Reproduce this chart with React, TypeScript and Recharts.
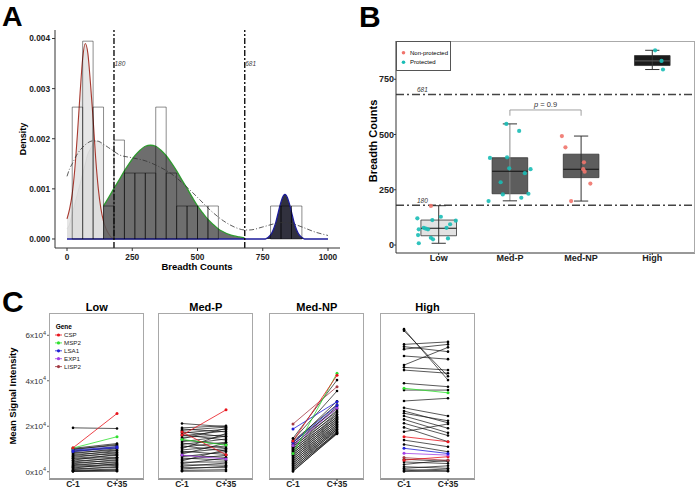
import {
  Area,
  ComposedChart,
  Line,
  LineChart,
  ReferenceArea,
  ReferenceLine,
  Scatter,
  ScatterChart,
  XAxis,
  YAxis,
} from 'recharts'

const FONT = '"Liberation Sans", Arial, sans-serif'

// ---------- panel A: breadth histogram with fitted mixture ----------
const BIN_WIDTH = 40
const SAMPLE_SIZE = 38
const binStarts = [20, 60, 100, 140, 180, 220, 260, 300, 340, 380, 420, 460, 500, 540, 780, 820, 860]
const binCounts = [4, 6, 4, 1, 3, 2, 2, 2, 4, 2, 1, 1, 1, 1, 1, 1, 1]

const lowFit: [number, number][] = [
  [0, 0.0004], [10, 0.0006], [20, 0.0009], [30, 0.0014], [40, 0.0021], [50, 0.0029], [60, 0.0036],
  [70, 0.0039], [80, 0.0037], [90, 0.0031], [100, 0.0024], [110, 0.0016], [120, 0.001], [130, 0.0006],
  [140, 0.00035], [150, 0.0002], [160, 0.0001], [170, 0.00003], [180, 0],
]
const lowShade: [number, number][] = [
  [0, 0.0002], [10, 0.0003], [20, 0.0005], [30, 0.0007], [40, 0.0009], [50, 0.0011], [60, 0.0013],
  [70, 0.0015], [80, 0.0017], [90, 0.0018], [100, 0.0019], [110, 0.00195], [120, 0.00195], [130, 0.0019],
  [140, 0.00185],
]
const medFit: [number, number][] = [
  [140, 0.00066], [160, 0.00083], [180, 0.00101], [200, 0.00118], [220, 0.00136], [240, 0.00152],
  [260, 0.00166], [280, 0.00177], [300, 0.00185], [320, 0.00187], [340, 0.00185], [360, 0.00177],
  [380, 0.00166], [400, 0.00152], [420, 0.00136], [440, 0.00118], [460, 0.00101], [480, 0.00083],
  [500, 0.00066], [520, 0.00052], [540, 0.00039], [560, 0.00029], [580, 0.0002], [600, 0.00014],
  [620, 0.00009], [640, 0.00006], [660, 0.00004], [680, 0.00002],
]
const highFit: [number, number][] = [
  [0, 0], [700, 0], [760, 0], [770, 0.00003], [780, 0.00008], [790, 0.00018], [800, 0.00033],
  [810, 0.00054], [820, 0.00074], [830, 0.00087], [835, 0.00089], [840, 0.00087], [850, 0.00074],
  [860, 0.00054], [870, 0.00033], [880, 0.00018], [890, 0.00008], [900, 0.00003], [910, 0], [1000, 0],
]
const overallDensity: [number, number][] = [
  [0, 0.00125], [10, 0.0014], [20, 0.0015], [40, 0.0017], [60, 0.00183], [80, 0.00192], [100, 0.00196],
  [120, 0.00195], [140, 0.00189], [160, 0.00182], [180, 0.00175], [200, 0.00168], [250, 0.00162],
  [300, 0.00156], [350, 0.00145], [400, 0.0013], [450, 0.00108], [500, 0.00083], [550, 0.00057],
  [600, 0.00036], [650, 0.00022], [680, 0.00018], [700, 0.00018], [750, 0.00024], [800, 0.00031],
  [830, 0.00033], [860, 0.00031], [900, 0.00024], [950, 0.00014], [1000, 0.00007],
]
const cutoffs = [180, 681]
const densityTicks = [0, 0.001, 0.002, 0.003, 0.004]
const breadthTicks = [0, 250, 500, 750, 1000]

// ---------- panel B: breadth by group ----------
const groups = ['Low', 'Med-P', 'Med-NP', 'High']
const whiskerLow = [8, 200, 199, 794]
const quart1 = [42, 232, 305, 812]
const medians = [76, 334, 343, 833]
const quart3 = [113, 395, 411, 857]
const whiskerHigh = [178, 548, 493, 881]
const boxFills = ['#e2e2e2', '#5d5d5d', '#5d5d5d', '#1b1b1b']
const protectedX = [
  0.7, 0.91, 1.03, 1.24, 0.72, 0.79, 0.82, 0.85, 1.11, 1.16, 0.71, 0.89, 0.92, 1.13, 0.72,
  1.72, 1.96, 1.99, 2.21, 2.29, 1.87, 1.9, 2.26, 2.16, 1.7, 1.95, 2.13,
  4.04, 4.13, 4.15,
]
const protectedY = [
  121, 113, 128, 110, 71, 78, 74, 71, 78, 94, 45, 33, 26, 30, 8,
  394, 397, 347, 325, 343, 284, 229, 232, 214, 199, 548, 516,
  881, 833, 794,
]
const nonProtectedX = [0.89, 2.73, 2.78, 3.04, 3.03, 3.05, 3.13, 2.86]
const nonProtectedY = [177, 493, 442, 374, 343, 332, 278, 199]
const breadthGroupTicks = [0, 250, 500, 750]

// ---------- panel C: signal before / after challenge (x10^3) ----------
const timepoints = ['C-1', 'C+35']
const geneNames = ['CSP', 'MSP2', 'LSA1', 'EXP1', 'LISP2']
const geneColors: Record<string, string> = {
  CSP: '#e8141c',
  MSP2: '#2fe02f',
  LSA1: '#1f1fd6',
  EXP1: '#a23fe6',
  LISP2: '#a23a44',
}
type Pair = [number, number]
type GeneLine = [string, number, number]

const lowPairs: Pair[] = [
  [19.3, 19.0], [10.3, 12.4], [10.0, 11.6], [9.7, 12.0], [9.2, 10.4], [8.8, 11.0], [8.4, 9.5], [8.0, 10.1],
  [7.6, 8.7], [7.1, 9.3], [6.8, 7.9], [6.3, 8.4], [5.9, 7.2], [5.6, 6.4], [5.1, 7.6], [4.7, 5.8], [4.3, 6.2],
  [3.9, 4.9], [3.5, 5.3], [3.1, 4.0], [2.7, 4.4], [2.4, 3.3], [2.0, 2.8], [1.6, 3.6], [1.3, 1.9], [0.9, 2.3],
  [0.6, 1.2], [0.4, 0.5], [0.2, 0.9], [0.1, 0.2],
]
const lowGeneLines: GeneLine[] = [
  ['LSA1', 9.5, 11.0], ['LSA1', 8.9, 10.5], ['MSP2', 10.4, 15.4], ['CSP', 10.5, 25.6],
]
const medPPairs: Pair[] = [
  [21.2, 19.8], [19.3, 20.2], [18.8, 17.5], [18.2, 19.6], [17.6, 15.3], [17.0, 18.7], [16.3, 13.9],
  [15.8, 17.9], [15.1, 16.2], [14.5, 19.0], [13.9, 12.1], [13.2, 15.6], [12.6, 10.4], [12.0, 14.4],
  [11.4, 9.1], [10.8, 13.0], [10.2, 16.8], [9.6, 11.3], [9.0, 7.6], [8.4, 10.2], [7.8, 12.6], [7.2, 6.3],
  [6.6, 8.8], [6.0, 5.1], [5.4, 7.2], [4.8, 9.7], [4.2, 4.3], [3.6, 6.0], [3.0, 2.9], [2.4, 3.8],
  [1.8, 1.8], [1.2, 2.4], [0.6, 0.9], [0.2, 0.3],
]
const medPGeneLines: GeneLine[] = [
  ['EXP1', 7.3, 5.6], ['MSP2', 14.2, 11.7], ['CSP', 17.5, 7.5], ['CSP', 16.1, 27.2],
]
const medNPPairs: Pair[] = [
  [14.7, 40.3], [13.9, 35.5], [13.5, 29.5], [13.0, 27.8], [12.6, 31.0], [12.1, 26.5], [11.7, 28.6],
  [11.2, 25.2], [10.8, 27.1], [10.3, 24.0], [9.9, 26.0], [9.4, 23.1], [9.0, 25.0], [8.5, 22.2],
  [8.1, 24.3], [7.6, 21.4], [7.2, 23.5], [6.7, 20.6], [6.3, 22.7], [5.8, 19.9], [5.4, 21.8], [4.9, 19.2],
  [4.5, 20.9], [4.0, 18.5], [3.6, 20.1], [3.1, 17.9], [2.7, 19.3], [2.2, 17.2], [1.8, 18.6], [1.3, 16.9],
  [0.9, 17.6], [0.4, 16.6], [0.1, 17.0],
]
const medNPGeneLines: GeneLine[] = [
  ['EXP1', 11.5, 28.0], ['LSA1', 12.8, 29.2], ['LSA1', 18.8, 30.8], ['LISP2', 21.0, 37.4],
  ['MSP2', 8.0, 43.3], ['CSP', 13.5, 42.4],
]
const highPairs: Pair[] = [
  [62.7, 40.3], [62.0, 42.0], [56.0, 57.1], [55.0, 52.8], [53.9, 56.0], [50.9, 49.5], [46.9, 54.7],
  [45.9, 44.7], [44.7, 43.3], [38.9, 37.4], [35.9, 35.9], [31.1, 32.3], [28.1, 24.5], [26.7, 21.5],
  [25.7, 22.4], [24.5, 19.1], [23.0, 17.1], [21.3, 15.9], [19.5, 13.2], [17.6, 21.0], [13.9, 11.0],
  [12.0, 8.8], [5.5, 4.5], [4.3, 3.6], [3.2, 5.1], [2.2, 1.5], [1.5, 2.6], [0.9, 0.4], [0.4, 1.2], [0.1, 0.2],
]
const highGeneLines: GeneLine[] = [
  ['LISP2', 6.2, 5.0], ['CSP', 5.1, 6.6], ['EXP1', 8.1, 7.3], ['LSA1', 10.3, 8.0], ['CSP', 15.4, 13.2],
  ['MSP2', 36.7, 34.7],
]
const signalTicks = [0, 20, 40, 60]

function buildDensityRows() {
  const rows = new Map<number, Record<string, number>>()
  const put = (points: [number, number][], key: string) => {
    points.forEach(([x, y]) => {
      const row = rows.get(x) ?? { x }
      row[key] = y
      rows.set(x, row)
    })
  }
  put(lowShade, 'lowShade')
  put(lowFit, 'low')
  put(medFit, 'med')
  put(highFit, 'high')
  put(overallDensity, 'overall')
  return [...rows.values()].sort((a, b) => a.x - b.x)
}

const densityRows = buildDensityRows()

const axisTick = (size: number, bold = true) => ({
  fontSize: size,
  fontWeight: bold ? 700 : 400,
  fill: '#222',
  fontFamily: FONT,
})

function DensityPanel() {
  return (
    <ComposedChart
      width={350}
      height={280}
      data={densityRows}
      margin={{ top: 30, right: 10, bottom: 0, left: 0 }}
      style={{ position: 'absolute', left: 0, top: 0 }}
    >
      <XAxis
        type="number"
        dataKey="x"
        domain={[-46, 1046]}
        ticks={breadthTicks}
        allowDataOverflow
        height={32}
        tickSize={3}
        tickMargin={3}
        stroke="#333"
        tick={axisTick(8.3)}
      />
      <YAxis
        type="number"
        domain={[-0.00018, 0.00417]}
        ticks={densityTicks}
        allowDataOverflow
        width={55}
        tickSize={3}
        tickMargin={2}
        stroke="#333"
        tick={axisTick(8.3)}
        tickFormatter={(v) => Number(v).toFixed(3)}
      />
      <Area dataKey="lowShade" type="monotone" baseValue={0} connectNulls fill="#dedede" fillOpacity={0.6}
        stroke="#c8c8c8" strokeWidth={0.6} isAnimationActive={false} />
      <Area dataKey="low" type="monotone" baseValue={0} connectNulls fill="#d6d6d6" fillOpacity={0.6}
        stroke="#a8382e" strokeWidth={1.1} isAnimationActive={false} />
      <Area dataKey="med" type="monotone" baseValue={0} connectNulls fill="#5a5a5a" fillOpacity={0.88}
        stroke="#2f9a2f" strokeWidth={1.3} isAnimationActive={false} />
      <Area dataKey="high" type="monotone" baseValue={0} connectNulls fill="#20202e" fillOpacity={0.92}
        stroke="#1c1c9c" strokeWidth={1.3} isAnimationActive={false} />
      {binStarts.map((start, i) => (
        <ReferenceArea
          key={`bin-${start}`}
          x1={start}
          x2={start + BIN_WIDTH}
          y1={0}
          y2={binCounts[i] / (SAMPLE_SIZE * BIN_WIDTH)}
          fill="none"
          stroke="rgba(0,0,0,0.5)"
          strokeWidth={0.9}
        />
      ))}
      <Line dataKey="overall" type="monotone" connectNulls dot={false} stroke="#333" strokeWidth={0.8}
        strokeDasharray="5 2 1 2" isAnimationActive={false} />
      {cutoffs.map((c) => (
        <ReferenceLine
          key={`cut-${c}`}
          x={c}
          stroke="#111"
          strokeWidth={1.4}
          strokeDasharray="6 2 2 2"
          label={(props: any) => {
            const vb = props.viewBox ?? {}
            return (
              <text x={vb.x + 0.5} y={vb.y + 35.5} fontSize={6.5} fontStyle="italic" fill="#444"
                style={{ fill: '#444' }} fontFamily={FONT}>
                {c}
              </text>
            )
          }}
        />
      ))}
    </ComposedChart>
  )
}

const dot = (color: string) => (props: any) => (
  <circle cx={props.cx} cy={props.cy} r={2.1} fill={color} fillOpacity={0.9} />
)

function GroupPanel() {
  const protectedPts = protectedX.map((x, i) => ({ x, y: protectedY[i] }))
  const nonProtectedPts = nonProtectedX.map((x, i) => ({ x, y: nonProtectedY[i] }))
  return (
    <ScatterChart
      width={346}
      height={280}
      margin={{ top: 41, right: 1, bottom: 0, left: 0 }}
      style={{ position: 'absolute', left: 350, top: 0 }}
    >
      <XAxis
        type="number"
        dataKey="x"
        domain={[0.4, 4.6]}
        ticks={[1, 2, 3, 4]}
        allowDataOverflow
        height={27}
        tickSize={2}
        tickMargin={0}
        stroke="#333"
        tick={axisTick(9)}
        tickFormatter={(v) => groups[Number(v) - 1]}
      />
      <YAxis
        type="number"
        dataKey="y"
        domain={[-36, 923]}
        ticks={breadthGroupTicks}
        allowDataOverflow
        width={46}
        tickSize={2}
        tickMargin={0}
        stroke="#333"
        tick={axisTick(9)}
      />
      {cutoffs.map((c) => (
        <ReferenceLine
          key={`hcut-${c}`}
          y={c}
          stroke="#444"
          strokeWidth={1.5}
          strokeDasharray="8 3 2 3"
          label={(props: any) => {
            const vb = props.viewBox ?? {}
            return (
              <text x={vb.x + 21} y={vb.y - 2} fontSize={6.5} fontStyle="italic" fill="#333"
                style={{ fill: '#333' }} fontFamily={FONT}>
                {c}
              </text>
            )
          }}
        />
      ))}
      {groups.map((g, i) => (
        <ReferenceArea
          key={`box-${g}`}
          x1={i + 1 - 0.25}
          x2={i + 1 + 0.25}
          y1={quart1[i]}
          y2={quart3[i]}
          fill={boxFills[i]}
          fillOpacity={1}
          stroke="#333"
          strokeWidth={0.8}
        />
      ))}
      {groups.map((g, i) => (
        <ReferenceLine
          key={`wh-${g}`}
          segment={[{ x: i + 1, y: whiskerLow[i] }, { x: i + 1, y: whiskerHigh[i] }]}
          stroke={i === 1 ? '#8a8a8a' : '#333'}
          strokeWidth={1}
        />
      ))}
      {groups.map((g, i) => (
        <ReferenceLine
          key={`med-${g}`}
          segment={[{ x: i + 0.75, y: medians[i] }, { x: i + 1.25, y: medians[i] }]}
          stroke={i === 3 ? '#555' : '#111'}
          strokeWidth={1.1}
        />
      ))}
      {groups.flatMap((g, i) => [
        <ReferenceLine
          key={`capl-${g}`}
          segment={[{ x: i + 0.9, y: whiskerLow[i] }, { x: i + 1.1, y: whiskerLow[i] }]}
          stroke="#333"
          strokeWidth={1}
        />,
        <ReferenceLine
          key={`caph-${g}`}
          segment={[{ x: i + 0.9, y: whiskerHigh[i] }, { x: i + 1.1, y: whiskerHigh[i] }]}
          stroke="#333"
          strokeWidth={1}
        />,
      ])}
      <ReferenceLine segment={[{ x: 2, y: 585 }, { x: 2, y: 611 }]} stroke="#888" strokeWidth={0.8} />
      <ReferenceLine segment={[{ x: 3, y: 585 }, { x: 3, y: 611 }]} stroke="#888" strokeWidth={0.8} />
      <ReferenceLine
        segment={[{ x: 2, y: 611 }, { x: 3, y: 611 }]}
        stroke="#888"
        strokeWidth={0.8}
        label={(props: any) => {
          const vb = props.viewBox ?? {}
          return (
            <text x={vb.x + (vb.width ?? 0) / 2} y={vb.y - 3} textAnchor="middle" fontSize={7.5} fill="#333"
              style={{ fill: '#333' }} fontFamily={FONT}>
              <tspan fontStyle="italic">p</tspan> = 0.9
            </text>
          )
        }}
      />
      <Scatter name="Protected" data={protectedPts} shape={dot('#19bdb6')} isAnimationActive={false} />
      <Scatter name="Non-protected" data={nonProtectedPts} shape={dot('#f0746c')} isAnimationActive={false} />
    </ScatterChart>
  )
}

function PowTick(props: any) {
  const { x, y, payload } = props
  return (
    <text x={x} y={y} dy={3} textAnchor="end" fontSize={8} fill="#333" fontFamily={FONT}>
      {payload.value / 10}x10
      <tspan dy={-3.5} fontSize={5.5}>4</tspan>
    </text>
  )
}

type SignalPanelProps = {
  plotLeft: number
  pairs: Pair[]
  genes: GeneLine[]
  showLabels: boolean
}

const PLOT_TOP = 313
const PLOT_W = 95
const PLOT_H = 166

function SignalPanel({ plotLeft, pairs, genes, showLabels }: SignalPanelProps) {
  const yW = showLabels ? 49 : 4
  const rows: Record<string, string | number>[] = timepoints.map((t) => ({ t }))
  pairs.forEach(([a, b], i) => {
    rows[0][`k${i}`] = a
    rows[1][`k${i}`] = b
  })
  genes.forEach(([, a, b], j) => {
    rows[0][`g${j}`] = a
    rows[1][`g${j}`] = b
  })
  return (
    <LineChart
      width={yW + PLOT_W}
      height={PLOT_H + 12}
      data={rows}
      margin={{ top: 0, right: 0, bottom: 0, left: 0 }}
      style={{ position: 'absolute', left: plotLeft - yW, top: PLOT_TOP }}
    >
      <XAxis
        dataKey="t"
        type="category"
        scale="point"
        padding={{ left: 24, right: 27 }}
        height={12}
        tickSize={2}
        tickMargin={0}
        stroke="#333"
        tick={axisTick(8.5)}
      />
      <YAxis
        type="number"
        domain={[-3.2, 69.8]}
        ticks={signalTicks}
        allowDataOverflow
        width={yW}
        tickSize={2}
        tickMargin={1}
        axisLine={false}
        stroke="#666"
        tick={showLabels ? <PowTick /> : false}
      />
      {pairs.map((_, i) => (
        <Line
          key={`k${i}`}
          dataKey={`k${i}`}
          stroke="#111"
          strokeWidth={0.7}
          dot={{ r: 1.3, fill: '#000', stroke: 'none' }}
          isAnimationActive={false}
        />
      ))}
      {genes.map(([gene], j) => (
        <Line
          key={`g${j}`}
          dataKey={`g${j}`}
          stroke={geneColors[gene]}
          strokeWidth={0.8}
          dot={{ r: 1.5, fill: geneColors[gene], stroke: 'none' }}
          isAnimationActive={false}
        />
      ))}
    </LineChart>
  )
}

const signalPanels = [
  { title: 'Low', plotLeft: 49.3, pairs: lowPairs, genes: lowGeneLines },
  { title: 'Med-P', plotLeft: 158.3, pairs: medPPairs, genes: medPGeneLines },
  { title: 'Med-NP', plotLeft: 269.3, pairs: medNPPairs, genes: medNPGeneLines },
  { title: 'High', plotLeft: 380, pairs: highPairs, genes: highGeneLines },
]

export default function App() {
  return (
    <div style={{ position: 'absolute', left: 0, top: 0, width: 696, height: 489, background: '#fff', overflow: 'hidden', fontFamily: FONT }}>
      <DensityPanel />
      <GroupPanel />
      {signalPanels.map((p, i) => (
        <SignalPanel key={p.title} plotLeft={p.plotLeft} pairs={p.pairs} genes={p.genes} showLabels={i === 0} />
      ))}
      {/* frames */}
      <div style={{ position: 'absolute', left: 396, top: 41, width: 299, height: 212, borderTop: '1px solid #aaa', borderRight: '1px solid #aaa', boxSizing: 'border-box', pointerEvents: 'none' }} />
      {signalPanels.map((p) => (
        <div key={`f-${p.title}`} style={{ position: 'absolute', left: p.plotLeft, top: PLOT_TOP, width: PLOT_W, height: PLOT_H, border: '1px solid #a8a8a8', borderBottom: 'none', boxSizing: 'border-box', pointerEvents: 'none' }} />
      ))}
      <svg width={696} height={489} style={{ position: 'absolute', left: 0, top: 0, pointerEvents: 'none' }} fontFamily={FONT}>
        <text x={2} y={26} fontSize={28.5} fontWeight={700}>A</text>
        <text x={359} y={27} fontSize={30} fontWeight={700}>B</text>
        <text x={2} y={312} fontSize={30} fontWeight={700}>C</text>
        <text x={23} y={139} fontSize={9} fontWeight={700} textAnchor="middle" dominantBaseline="central" transform="rotate(-90 23 139)">Density</text>
        <text x={197} y={266.5} fontSize={9.5} fontWeight={700} textAnchor="middle" dominantBaseline="central">Breadth Counts</text>
        <text x={373} y={141} fontSize={11} fontWeight={700} textAnchor="middle" dominantBaseline="central" transform="rotate(-90 373 141)">Breadth Counts</text>
        {/* B legend */}
        <rect x={396.5} y={41.5} width={54} height={29} fill="#fff" stroke="#555" strokeWidth={1} />
        <circle cx={403.5} cy={52.7} r={1.8} fill="#f0746c" />
        <text x={410} y={54.8} fontSize={6}>Non-protected</text>
        <circle cx={403.5} cy={62.3} r={1.8} fill="#19bdb6" />
        <text x={410} y={64.4} fontSize={6}>Protected</text>
        {/* C titles */}
        {signalPanels.map((p) => (
          <text key={`t-${p.title}`} x={p.plotLeft + PLOT_W / 2} y={311} fontSize={11} fontWeight={700} textAnchor="middle">
            {p.title}
          </text>
        ))}
        <text x={12.5} y={396} fontSize={9.5} fontWeight={700} textAnchor="middle" dominantBaseline="central" transform="rotate(-90 12.5 396)">Mean Signal Intensity</text>
        {/* C legend */}
        <text x={55.7} y={329} fontSize={6.5} fontWeight={700}>Gene</text>
        {geneNames.map((g, i) => {
          const cy = 335 + i * 7.9
          return (
            <g key={`lg-${g}`}>
              <line x1={55} x2={62} y1={cy} y2={cy} stroke={geneColors[g]} strokeWidth={0.8} />
              <circle cx={58.5} cy={cy} r={1.6} fill={geneColors[g]} />
              <text x={64} y={cy + 2.2} fontSize={6.2} fill="#222">{g}</text>
            </g>
          )
        })}
      </svg>
    </div>
  )
}
